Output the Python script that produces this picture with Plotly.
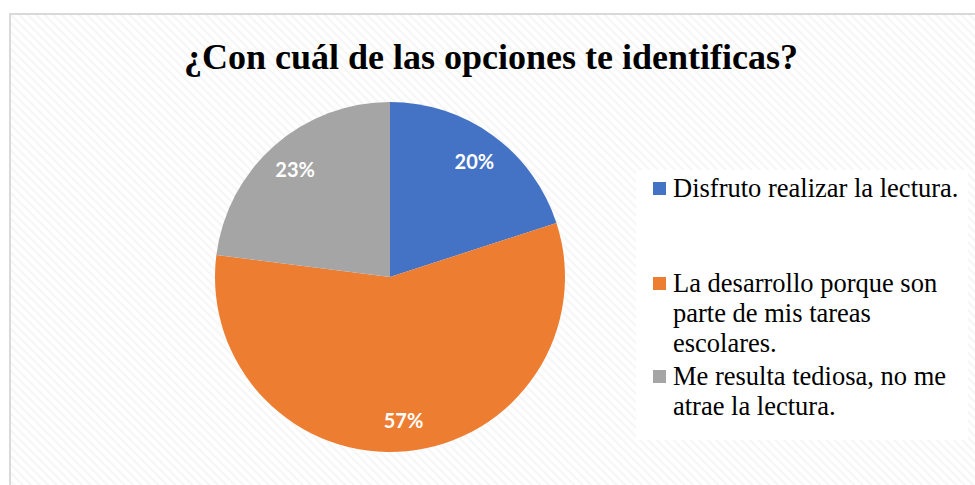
import plotly.graph_objects as go

title_text = "¿Con cuál de las opciones te identificas?"
categories = [
    "Disfruto realizar la lectura.",
    "La desarrollo porque son<br>parte de mis tareas<br>escolares.",
    "Me resulta tediosa, no me<br>atrae la lectura.",
]
values = [20, 57, 23]
colors = ["#4472C4", "#ED7D31", "#A5A5A5"]

W, H = 975, 485
cx, cy, r = 390, 277, 175

fig = go.Figure()

# hatched background of the chart area
fig.add_trace(go.Bar(
    x=[0.5], y=[1], width=[1], xaxis="x", yaxis="y",
    marker=dict(color="white", line=dict(width=0),
                pattern=dict(shape="\\", fgcolor="#ececec", bgcolor="white",
                             size=6, solidity=0.35)),
    hoverinfo="skip", showlegend=False,
))

dom = dict(x=[(cx - r) / W, (cx + r) / W], y=[(H - cy - r) / H, (H - cy + r) / H])

fig.add_trace(go.Pie(
    labels=categories, values=values, sort=False, direction="clockwise",
    rotation=0,
    marker=dict(colors=colors, line=dict(width=0)),
    textinfo="none",
    domain=dom, showlegend=False, hoverinfo="label+percent",
))

# transparent ring overlay used only to place the percentage labels further out
fig.add_trace(go.Pie(
    labels=categories, values=values, sort=False, direction="clockwise",
    rotation=0, hole=0.64,
    marker=dict(colors=["rgba(0,0,0,0)"] * len(values), line=dict(width=0)),
    texttemplate="%{percent:.0%}", textposition="inside",
    insidetextorientation="horizontal",
    textfont=dict(family="Lato", size=20, color="white", weight="bold"),
    domain=dom, showlegend=False, hoverinfo="skip",
))

shapes = [
    dict(type="rect", xref="paper", yref="paper", x0=10 / W, x1=1.2, y0=-0.2, y1=1 - 14 / H,
         line=dict(color="#d9d9d9", width=2), fillcolor="rgba(0,0,0,0)", layer="above"),
    dict(type="rect", xref="paper", yref="paper", x0=636 / W, x1=968 / W,
         y0=1 - 440 / H, y1=1 - 170 / H, line=dict(width=0), fillcolor="white", layer="above"),
]
annotations = []
legend_tops = [188, 283, 376]
line_h = 30
for cat, col, ytop in zip(categories, colors, legend_tops):
    shapes.append(dict(type="rect", xref="paper", yref="paper",
                       x0=653 / W, x1=666 / W, y0=1 - (ytop + 7) / H, y1=1 - (ytop - 6) / H,
                       line=dict(width=0), fillcolor=col, layer="above"))
    for i, line in enumerate(cat.split("<br>")):
        annotations.append(dict(
            text=line, xref="paper", yref="paper", x=671 / W, y=1 - (ytop + i * line_h) / H,
            xanchor="left", yanchor="middle", showarrow=False, align="left",
            font=dict(family="Liberation Serif", size=26.5, color="black"),
        ))

annotations.append(dict(
    text="<b>" + title_text + "</b>", xref="paper", yref="paper", x=491 / W, y=1 - 57 / H,
    xanchor="center", yanchor="middle", showarrow=False,
    font=dict(family="Liberation Serif", size=36, color="black"),
))

fig.update_layout(
    width=W, height=H, margin=dict(l=0, r=0, t=0, b=0),
    paper_bgcolor="white", plot_bgcolor="rgba(0,0,0,0)",
    xaxis=dict(domain=[10 / W, 1], range=[0, 1], visible=False, fixedrange=True),
    yaxis=dict(domain=[0, 1 - 14 / H], range=[0, 1], visible=False, fixedrange=True),
    bargap=0, shapes=shapes, annotations=annotations, showlegend=False,
)

fig.write_html("out.html", config={"displayModeBar": False},
               post_script="document.body.style.margin='0';")
